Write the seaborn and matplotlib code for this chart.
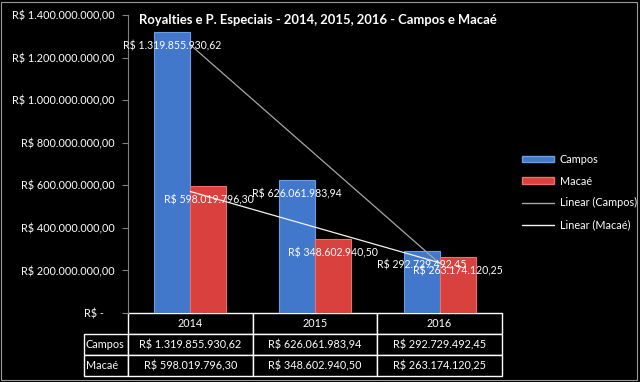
import numpy as np
import pandas as pd
import matplotlib
matplotlib.use('Agg')
import matplotlib.pyplot as plt
import seaborn as sns
from matplotlib.patches import Patch, Rectangle
from matplotlib.lines import Line2D
from matplotlib.ticker import FuncFormatter

anos = ['2014', '2015', '2016']
cidades = ['Campos', 'Macaé']
campos = [1319855930.62, 626061983.94, 292729492.45]
macae = [598019796.30, 348602940.50, 263174120.25]
yticks = [0, 200e6, 400e6, 600e6, 800e6, 1000e6, 1200e6, 1400e6]

cores = {'Campos': '#4178cc', 'Macaé': '#d8413d'}
bordas = {'Campos': '#6b9ee0', 'Macaé': '#ec6f6b'}
cor_tend = {'Campos': '#a6a6a6', 'Macaé': '#f2f2f2'}


def brl(v):
    if v == 0:
        return 'R$ -    '
    s = f'{v:,.2f}'.replace(',', 'X').replace('.', ',').replace('X', '.')
    return 'R$ ' + s


df = pd.DataFrame({
    'Ano': anos * 2,
    'Cidade': ['Campos'] * 3 + ['Macaé'] * 3,
    'Valor': campos + macae,
})

sns.set_style('dark')
plt.rcParams['font.family'] = ['Lato', 'DejaVu Sans']

fig = plt.figure(figsize=(6.4, 3.82), dpi=100, facecolor='black')
ax = fig.add_axes([128 / 640, 69 / 382, 374 / 640, 298 / 382])
ax.set_facecolor('black')

sns.barplot(data=df, x='Ano', y='Valor', hue='Cidade', hue_order=cidades,
            palette=cores, width=0.58, saturation=1, ax=ax, legend=False)

for cont, cid in zip(ax.containers, cidades):
    for bar in cont:
        bar.set_edgecolor(bordas[cid])
        bar.set_linewidth(0.8)
        x = bar.get_x() + bar.get_width() / 2
        h = bar.get_height()
        ax.annotate(brl(h), (x, h), xytext=(0, -14), textcoords='offset pixels',
                    ha='center', va='center', color='white', fontsize=7.6,
                    zorder=6)

# linhas de tendencia (linear)
xs = np.arange(len(anos))
for cid, vals in zip(cidades, [campos, macae]):
    a, b = np.polyfit(xs, vals, 1)
    ax.plot(xs, a * xs + b, color=cor_tend[cid], lw=0.9, zorder=5)

ax.set_ylim(0, 1.4e9)
ax.set_xlim(-0.5, 2.5)
ax.set_yticks(yticks)
ax.yaxis.set_major_formatter(FuncFormatter(lambda v, p: brl(v)))
ax.tick_params(axis='y', colors='#808080', labelcolor='white', labelsize=7.8,
               length=4, width=0.8, left=True, pad=5.5)
ax.tick_params(axis='x', bottom=False, labelbottom=False)
ax.set_xlabel('')
ax.set_ylabel('')
ax.grid(False)
for s in ['top', 'right', 'bottom']:
    ax.spines[s].set_visible(False)
ax.spines['left'].set_visible(True)
ax.spines['left'].set_color('#808080')
ax.spines['left'].set_linewidth(0.8)

# tabela de dados (primeira coluna = nomes das series)
cell_text = [[cidades[0]] + [brl(v) for v in campos],
             [cidades[1]] + [brl(v) for v in macae]]
tab = ax.table(cellText=cell_text, colLabels=[''] + anos,
               colWidths=[44 / 418] + [124.67 / 418] * 3, cellLoc='center',
               bbox=[-44 / 374, -63 / 298, 418 / 374, 63 / 298])
tab.auto_set_font_size(False)
tab.set_fontsize(7.8)
for (r, c), cell in tab.get_celld().items():
    cell.set_facecolor('black')
    cell.set_edgecolor('white')
    cell.set_linewidth(1.0)
    cell.get_text().set_color('white')
    if c == 0:
        cell.get_text().set_ha('left')
        cell._loc = 'left'
        cell.PAD = 0.04
    if r == 0 and c == 0:
        cell.set_visible(False)

fig.text(318 / 640, 1 - 20 / 382,
         'Royalties e P. Especiais - 2014, 2015, 2016 - Campos e Macaé',
         ha='center', va='center', color='white', fontsize=9.4, fontweight='bold')

handles = [Patch(facecolor=cores['Campos'], edgecolor=bordas['Campos']),
           Patch(facecolor=cores['Macaé'], edgecolor=bordas['Macaé']),
           Line2D([], [], color=cor_tend['Campos'], lw=1),
           Line2D([], [], color=cor_tend['Macaé'], lw=1)]
labels = ['Campos', 'Macaé', 'Linear (Campos)', 'Linear (Macaé)']
leg = fig.legend(handles, labels, loc='upper left',
                 bbox_to_anchor=(512 / 640, 1 - 144 / 382), frameon=False,
                 fontsize=7.8, labelcolor='white', handlelength=3.0,
                 handleheight=0.55, labelspacing=1.0, handletextpad=0.5)

fig.patches.append(Rectangle((0.002, 0.004), 0.994, 0.99, transform=fig.transFigure,
                             fill=False, edgecolor='#9a9a9a', lw=0.8))

fig.savefig('out.png', dpi=100, facecolor='black')
